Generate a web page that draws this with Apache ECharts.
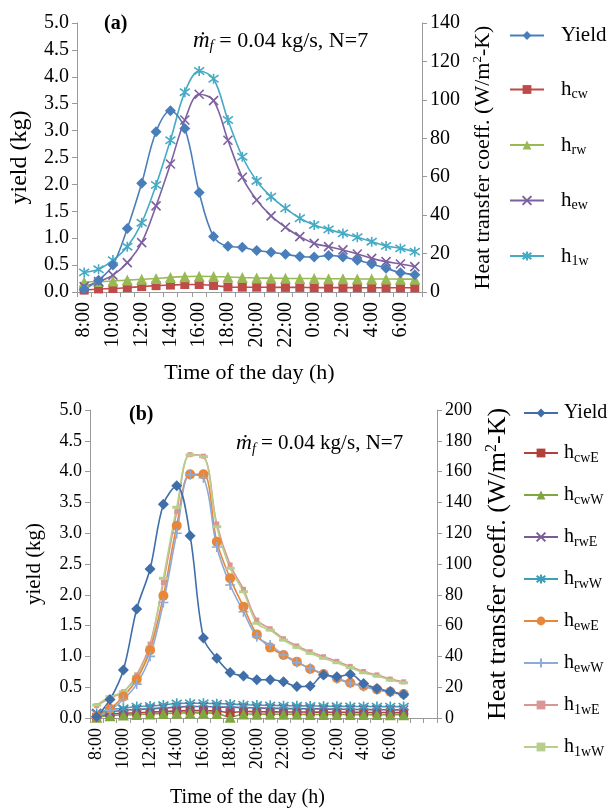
<!DOCTYPE html>
<html>
<head>
<meta charset="utf-8">
<script src="https://cdn.jsdelivr.net/npm/echarts@6/dist/echarts.min.js"></script>
<style>
html, body { margin: 0; padding: 0; background: #fff; }
#main { width: 609px; height: 812px; }
</style>
</head>
<body>
<div id="main"></div>
<script>
// time axis, hourly from 8:00 to 7:00 next day
var hours = ['8:00', '9:00', '10:00', '11:00', '12:00', '13:00', '14:00', '15:00', '16:00', '17:00', '18:00', '19:00',
    '20:00', '21:00', '22:00', '23:00', '0:00', '1:00', '2:00', '3:00', '4:00', '5:00', '6:00', '7:00'];
var hoursB = hours.concat(['', '']);

// (a) yield in kg, heat transfer coeff. in W/m2-K
var yieldA = [0.05, 0.22, 0.5, 1.18, 2.02, 2.98, 3.37, 3.04, 1.85, 1.03, 0.85, 0.83, 0.77, 0.74, 0.70, 0.66, 0.65, 0.68, 0.65, 0.59, 0.52, 0.44, 0.36, 0.32];
var hcwA = [1.0, 1.6, 1.8, 2.3, 2.8, 3.3, 3.6, 3.9, 3.9, 3.4, 2.6, 2.5, 2.5, 2.4, 2.4, 2.4, 2.3, 2.3, 2.3, 2.3, 2.2, 2.2, 2.2, 2.2];
var hrwA = [5.2, 5.4, 5.7, 6.2, 6.6, 7.0, 7.6, 8.0, 8.2, 8.1, 7.8, 7.5, 7.3, 7.2, 7.1, 7.0, 7.0, 6.9, 6.9, 6.8, 6.8, 6.8, 6.7, 6.7];
var hewA = [2.8, 5.4, 8.8, 15.3, 25.7, 44.8, 66.6, 89.5, 102.9, 99.6, 79, 59.7, 47.9, 39.6, 33.7, 28.8, 25.3, 23.6, 21.9, 19.8, 17.5, 15.8, 14.6, 13.2];
var h1wA = [10.2, 11.8, 16.6, 23.6, 36, 55.7, 79, 104, 115, 111, 89.5, 70.4, 57.8, 49.6, 43.6, 38.4, 34.9, 32.6, 30.5, 28.5, 26.2, 24, 22.7, 21];

// (b)
var yieldB = [0.02, 0.3, 0.78, 1.77, 2.42, 3.47, 3.77, 2.96, 1.3, 0.97, 0.74, 0.68, 0.62, 0.62, 0.59, 0.51, 0.52, 0.70, 0.67, 0.71, 0.56, 0.48, 0.43, 0.38];
var hcwE = [0.5, 2.5, 3, 3.4, 3.8, 4.2, 4.6, 4.8, 4.8, 4.6, 3.5, 4.2, 4.1, 4.0, 3.9, 3.9, 3.8, 3.8, 3.7, 3.7, 3.6, 3.6, 3.5, 3.5];
var hcwW = [0.5, 1.5, 2, 2.3, 2.6, 2.9, 3.2, 3.3, 3.3, 3.0, 0.5, 2.6, 2.5, 2.5, 2.4, 2.4, 2.3, 2.3, 2.3, 2.2, 2.2, 2.2, 2.1, 2.1];
var hrwE = [3, 4, 5, 5.5, 6, 6.5, 7, 7.5, 7.5, 7.2, 7, 6.8, 6.5, 6.3, 6.2, 6, 6, 5.8, 5.7, 5.6, 5.5, 5.4, 5.3, 5.2];
var hrwW = [3, 5.5, 6.3, 7.4, 7.8, 8.4, 9.5, 9.6, 9.6, 9.3, 9.1, 8.6, 8.4, 8.2, 8.0, 7.9, 7.8, 7.7, 7.6, 7.5, 7.5, 7.4, 7.4, 7.4];
var hewE = [1, 6, 14, 25, 44, 79.4, 124.9, 158.2, 158.2, 114.5, 90.7, 72.3, 54.3, 45.7, 40.9, 36.6, 31.8, 28.6, 25.8, 22.9, 20.8, 18.6, 17.1, 15.6];
var hewW = [0.5, 5, 12, 22, 40, 75, 120, 158, 156, 111, 86.4, 69, 52.8, 47.4, 40.9, 36, 32.3, 28.6, 25.5, 22.5, 20.5, 18.3, 16.8, 15];
var h1wE = [8, 13, 17, 28, 48, 88, 134, 171, 170, 126, 99.4, 83.6, 63.6, 58, 51.5, 46.8, 43, 39.8, 36.8, 33.5, 30.2, 28, 25.3, 23.5];
var h1wW = [8.4, 13.8, 17, 27, 46, 90.7, 136.8, 170.8, 169.7, 124.2, 97.2, 82, 61.5, 57.1, 50.6, 45.9, 42, 38.8, 35.9, 32.7, 29.4, 27.3, 24.7, 22.9];

var serif = 'Liberation Serif';
var axisGray = '#9a9a9a';
var xMark = 'path://M0,0L10,10M10,0L0,10';
var starMark = 'path://M0,0L10,10M10,0L0,10M5,-2L5,12';
var plusMark = 'path://M5,0L5,10M0,5L10,5';

// legend labels with subscripts
var labels = {
    a_y: '{m|Yield}', a_cw: '{m|h}{s|cw}', a_rw: '{m|h}{s|rw}', a_ew: '{m|h}{s|ew}', a_1w: '{m|h}{s|1w}',
    b_y: '{m|Yield}', b_cwE: '{m|h}{s|cwE}', b_cwW: '{m|h}{s|cwW}', b_rwE: '{m|h}{s|rwE}', b_rwW: '{m|h}{s|rwW}',
    b_ewE: '{m|h}{s|ewE}', b_ewW: '{m|h}{s|ewW}', b_1wE: '{m|h}{s|1wE}', b_1wW: '{m|h}{s|1wW}'
};
function legendRich(size) {
    return {
        m: { fontFamily: serif, fontSize: size, color: '#000', lineHeight: 24 },
        s: { fontFamily: serif, fontSize: Math.round(size * 0.68), color: '#000', lineHeight: 12, verticalAlign: 'bottom' }
    };
}

function line(name, data, color, symbol, size, idx, yIdx, stroke) {
    return {
        name: name,
        type: 'line',
        xAxisIndex: idx,
        yAxisIndex: yIdx,
        data: data,
        smooth: 0.35,
        symbol: symbol,
        symbolSize: size,
        showAllSymbol: true,
        lineStyle: { color: color, width: 1.6 },
        itemStyle: { color: stroke ? 'transparent' : color, borderColor: color, borderWidth: stroke ? 1.6 : 0 },
        emphasis: { disabled: true },
        z: 3
    };
}

function yAxisCfg(grid, max, interval, pos, name, gap, dec, labelSize, nameSize) {
    return {
        type: 'value',
        gridIndex: grid,
        position: pos,
        min: 0,
        max: max,
        interval: interval,
        name: name,
        nameLocation: 'middle',
        nameGap: gap,
        nameRotate: 90,
        nameTextStyle: {
            fontFamily: serif, fontSize: nameSize, color: '#000',
            rich: {
                t: { fontFamily: serif, fontSize: nameSize, color: '#000', lineHeight: nameSize + 2 },
                sup: { fontFamily: serif, fontSize: Math.round(nameSize * 0.6), color: '#000', lineHeight: nameSize + 2, verticalAlign: 'top', padding: [0, 0, 10, 0] }
            }
        },
        axisLine: { show: true, lineStyle: { color: axisGray } },
        axisTick: { show: true, length: 5, lineStyle: { color: axisGray } },
        splitLine: { show: false },
        axisLabel: {
            fontFamily: serif, fontSize: labelSize, color: '#000', margin: 8,
            formatter: function (v) { return dec ? v.toFixed(1) : String(v); }
        }
    };
}

function xAxisCfg(grid, data, gap, pad, labelSize, nameSize) {
    return {
        type: 'category',
        gridIndex: grid,
        data: data,
        boundaryGap: true,
        name: 'Time of the day (h)',
        nameLocation: 'middle',
        nameGap: gap,
        nameTextStyle: { fontFamily: serif, fontSize: nameSize, color: '#000', padding: pad },
        axisLine: { lineStyle: { color: axisGray } },
        axisTick: { show: true, interval: 0, length: 5, lineStyle: { color: axisGray } },
        axisLabel: { rotate: 90, interval: 1, fontFamily: serif, fontSize: labelSize, color: '#000', margin: 10 },
        splitLine: { show: false }
    };
}

var heatName = '{t|Heat transfer coeff. (W/m}{sup|2}{t|-K)}';
var mdot = '{i|ṁ}{f|f}{n| = 0.04 kg/s, N=7}';
function mdotRich(size) {
    return {
        i: { fontFamily: serif, fontStyle: 'italic', fontWeight: 'normal', fontSize: size + 1, color: '#000', lineHeight: size + 4 },
        f: { fontFamily: serif, fontStyle: 'italic', fontWeight: 'normal', fontSize: Math.round(size * 0.68), color: '#000', lineHeight: 12, verticalAlign: 'bottom' },
        n: { fontFamily: serif, fontWeight: 'normal', fontSize: size, color: '#000', lineHeight: size + 4 }
    };
}

var option = {
    backgroundColor: '#fff',
    animation: false,
    title: [
        { text: '(a)', left: 99, top: 9, textStyle: { fontFamily: serif, fontSize: 20, fontWeight: 'bold', color: '#000' } },
        { text: '(b)', left: 124, top: 400, textStyle: { fontFamily: serif, fontSize: 20, fontWeight: 'bold', color: '#000' } },
        { text: mdot, left: 193, top: 28, padding: 0, textStyle: { fontWeight: 'normal', rich: mdotRich(22) } },
        { text: mdot, left: 236, top: 431, padding: 0, textStyle: { fontWeight: 'normal', rich: mdotRich(21) } }
    ],
    grid: [
        { left: 73, top: 23, width: 349, height: 269 },
        { left: 90, top: 410, width: 347, height: 308 }
    ],
    legend: [
        {
            data: ['a_y', 'a_cw', 'a_rw', 'a_ew', 'a_1w'],
            orient: 'vertical', left: 509, top: 25, padding: 0, itemWidth: 34, itemHeight: 11, itemGap: 33,
            formatter: function (n) { return labels[n]; },
            textStyle: { padding: [0, 0, 0, 12], rich: legendRich(21) }
        },
        {
            data: ['b_y', 'b_cwE', 'b_cwW', 'b_rwE', 'b_rwW', 'b_ewE', 'b_ewW', 'b_1wE', 'b_1wW'],
            orient: 'vertical', left: 523, top: 403, padding: 0, itemWidth: 34, itemHeight: 11, itemGap: 20,
            formatter: function (n) { return labels[n]; },
            textStyle: { padding: [0, 0, 0, 1], rich: legendRich(20) }
        }
    ],
    xAxis: [
        xAxisCfg(0, hours, 70, 0, 20, 22),
        xAxisCfg(1, hoursB, 70, [0, 32, 0, 0], 18, 20)
    ],
    yAxis: [
        yAxisCfg(0, 5, 0.5, 'left', 'yield (kg)', 45, true, 20, 24),
        yAxisCfg(0, 140, 20, 'right', heatName, 44, false, 20, 22),
        yAxisCfg(1, 5, 0.5, 'left', 'yield (kg)', 45, true, 18, 21),
        yAxisCfg(1, 200, 20, 'right', heatName, 47, false, 18, 26)
    ],
    series: [
        line('a_cw', hcwA, '#be4b48', 'rect', 9, 0, 1),
        line('a_rw', hrwA, '#98b954', 'triangle', 11, 0, 1),
        line('a_ew', hewA, '#7d60a0', xMark, 9, 0, 1, true),
        line('a_1w', h1wA, '#46aac5', starMark, 10, 0, 1, true),
        line('a_y', yieldA, '#4a7ebb', 'diamond', 11, 0, 0),

        line('b_cwE', hcwE, '#b3403a', 'rect', 9, 1, 3),
        line('b_cwW', hcwW, '#7fa63f', 'triangle', 11, 1, 3),
        line('b_rwE', hrwE, '#7a5b9a', xMark, 9, 1, 3, true),
        line('b_rwW', hrwW, '#3d9fb8', starMark, 10, 1, 3, true),
        line('b_1wE', h1wE, '#d99694', 'rect', 5, 1, 3),
        line('b_1wW', h1wW, '#b7cf8a', 'rect', [9, 3], 1, 3),
        line('b_ewE', hewE, '#e8863a', 'circle', 10, 1, 3),
        line('b_ewW', hewW, '#8eaad6', plusMark, 10, 1, 3, true),
        line('b_y', yieldB, '#3f6ea9', 'diamond', 11, 1, 2)
    ]
};

var myChart = echarts.init(document.getElementById('main'));
myChart.setOption(option);
</script>
</body>
</html>
